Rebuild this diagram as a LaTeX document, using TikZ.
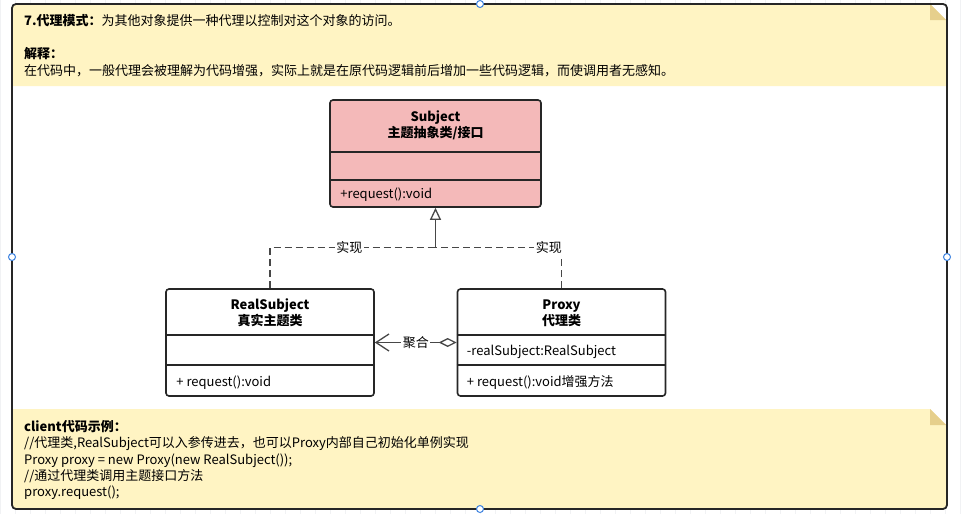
\documentclass[tikz,border=0pt]{standalone}
\usepackage{fontspec}
\setmainfont{Noto Sans CJK SC}
\usetikzlibrary{arrows.meta,positioning}

\definecolor{notefill}{HTML}{FFF4C3}
\definecolor{notefold}{HTML}{E6CF8C}
\definecolor{classfill}{HTML}{F4B9B9}
\definecolor{linedark}{HTML}{262626}
\definecolor{handleblue}{HTML}{3C82E0}
\definecolor{gridgray}{HTML}{F1F2F4}

\begin{document}
\begin{tikzpicture}[x=1pt,y=-1pt,node distance=189pt,on grid,
    font=\fontsize{13}{16.5}\selectfont,
    cls/.style={draw=linedark,line width=1.6pt,rounded corners=3pt,fill=white,
      minimum width=208pt,minimum height=107pt,inner sep=0pt},
    clstitle/.style={font=\fontsize{13}{16}\selectfont\bfseries,align=center,inner sep=0pt},
    member/.style={anchor=west,inner sep=0pt},
    textline/.style={anchor=base west,inner sep=0pt},
    lbl/.style={fill=white,inner sep=1.5pt},
    impl/.style={draw=linedark!85,line width=1.3pt,dash pattern=on 7pt off 4pt},
    inherit/.style={draw=linedark!85,line width=1.3pt,
      -{Triangle[open,length=12pt,width=11pt,fill=white]}},
    agg/.style={draw=linedark!85,line width=1.3pt,
      {Diamond[open,length=18pt,width=9pt,fill=white]}-{Straight Barb[length=13pt,width=17pt]}}]
  \useasboundingbox (0,0) rectangle (963,514);
  \draw[gridgray,step=15] (0,0) grid (963,514);
  \fill[white] (12,4) rectangle (947,509);

  % notes
  \fill[notefill] (13,4) -- (930,4) -- (946,20) -- (946,86) -- (13,86) -- cycle;
  \fill[notefold] (930,4) -- (946,20) -- (930,20) -- cycle;
  \fill[notefill] (13,409) -- (930,409) -- (946,425) -- (946,508) -- (13,508) -- cycle;
  \fill[notefold] (930,409) -- (946,425) -- (930,425) -- cycle;
  \draw[linedark,line width=1.8pt,rounded corners=4pt] (12,4) rectangle (947,509);

  \node[textline] (intro1) at (24,25) {\textbf{7.代理模式：}为其他对象提供一种代理以控制对这个对象的访问。};
  \node[textline] (intro2) at (24,58) {\textbf{解释：}};
  \node[textline] (intro3) at (24,75) {在代码中，一般代理会被理解为代码增强，实际上就是在原代码逻辑前后增加一些代码逻辑，而使调用者无感知。};

  \node[textline] (client1) at (24,431) {\textbf{client代码示例：}};
  \node[textline] (client2) at (24,447) {//代理类,RealSubject可以入参传进去，也可以Proxy内部自己初始化单例实现};
  \node[textline] (client3) at (24,464) {Proxy proxy = new Proxy(new RealSubject());};
  \node[textline] (client4) at (24,480) {//通过代理类调用主题接口方法};
  \node[textline] (client5) at (24,496) {proxy.request();};

  % classes
  \node[cls,fill=classfill,minimum width=211pt] (subject) at (435.5,153.5) {};
  \node[cls] (realsub) [below left=189pt and 165.5pt of subject] {};
  \node[cls] (proxy) [below right=189pt and 126pt of subject] {};

  \foreach \c/\a/\b in {subject/53/81,realsub/47/77,proxy/47/77}{
    \draw[linedark,line width=1.6pt] ([yshift=-\a pt]\c.north west) -- ([yshift=-\a pt]\c.north east);
    \draw[linedark,line width=1.6pt] ([yshift=-\b pt]\c.north west) -- ([yshift=-\b pt]\c.north east);
  }

  \node[clstitle] (subject_t) at ([yshift=-26pt]subject.north) {Subject\\主题抽象类/接口};
  \node[member] (subject_m) at ([xshift=11pt,yshift=13pt]subject.south west) {+request():void};

  \node[clstitle] (realsub_t) at ([yshift=-25pt]realsub.north) {RealSubject\\真实主题类};
  \node[member] (realsub_m) at ([xshift=11pt,yshift=14pt]realsub.south west) {+ request():void};

  \node[clstitle] (proxy_t) at ([yshift=-25pt]proxy.north) {Proxy\\代理类};
  \node[member] (proxy_f) at ([xshift=10pt,yshift=-64pt]proxy.north west) {-realSubject:RealSubject};
  \node[member] (proxy_m) at ([xshift=10pt,yshift=14pt]proxy.south west) {+ request():void增强方法};

  % relations
  \coordinate[below=40pt of subject.south] (join);
  \draw[impl] (realsub.north) |- node[lbl,pos=0.74] {实现} (join);
  \draw[impl] (proxy.north) |- node[lbl,pos=0.55] {实现} (join);
  \draw[inherit] (join) -- (subject.south);
  \draw[agg] (proxy.west) -- node[lbl] {聚合} (realsub.east);

  % selection handles
  \foreach \p in {(480,4),(12,257),(947,257),(480,509)}
    \draw[handleblue,fill=white,line width=1pt] \p circle (3.5);
\end{tikzpicture}
\end{document}
